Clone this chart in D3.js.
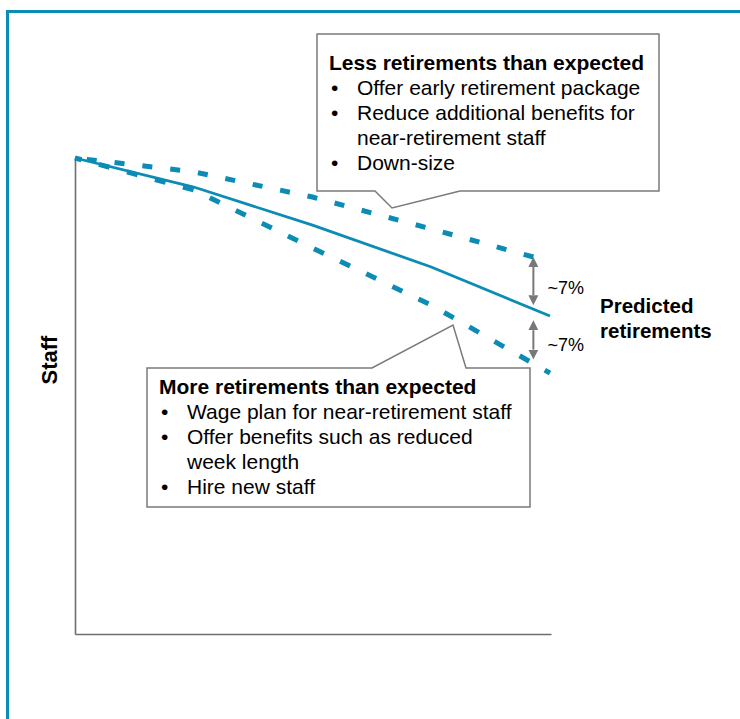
<!DOCTYPE html>
<html>
  <head>
    <script src="https://d3js.org/d3.v7.min.js"></script>
    <style>
      body { margin: 0; background: #fff; }
      text { font-family: "Liberation Sans", Arial, sans-serif; fill: #000; }
      .axis .domain { stroke: #6e6e6e; stroke-width: 1.6px; }
      .callout { fill: #fff; stroke: #7a7a7a; stroke-width: 1.5px; }
      .note { font-size: 21px; }
      .note--title { font-weight: bold; }
    </style>
  </head>
  <body>
    <svg width="740" height="719"></svg>
    <script>
      // periods along the x axis (no tick labels in the original)
      const periods = [0, 1, 2, 3, 4];
      // staff, as % of the starting level
      const predicted = [100, 93.9, 85.9, 77.1, 66.8];
      const moreRetirements = [100, 93.3, 81.1, 69.1, 54.8];
      // the upper dashed line stops a little short of the last period
      const lessPeriods = [0, 1, 2, 3, 3.86];
      const lessRetirements = [100, 97.1, 91.8, 85.1, 79.2];

      const gapLabels = ["~7%", "~7%"];
      const yLabel = "Staff";
      const seriesLabel = ["Predicted", "retirements"];

      const lessTitle = "Less retirements than expected";
      const lessNotes = [
        ["Offer early retirement package"],
        ["Reduce additional benefits for", "near-retirement staff"],
        ["Down-size"]
      ];
      const moreTitle = "More retirements than expected";
      const moreNotes = [
        ["Wage plan for near-retirement staff"],
        ["Offer benefits such as reduced", "week length"],
        ["Hire new staff"]
      ];

      const blue = "#0b8cb5";
      const grey = "#787878";

      const svg = d3.select("svg");
      const width = +svg.attr("width");
      const height = +svg.attr("height");

      // frame round the slide
      svg.append("rect")
        .attr("x", 7.5).attr("y", 11.5)
        .attr("width", width).attr("height", height)
        .attr("fill", "none")
        .attr("stroke", blue)
        .attr("stroke-width", 3);

      const xScale = d3.scaleLinear().domain([0, 4]).range([75, 550]);
      const yScale = d3.scaleLinear().domain([0, 100]).range([634, 158]);

      svg.append("g")
          .attr("class", "axis")
          .attr("transform", "translate(75,0)")
          .call(d3.axisLeft(yScale).tickValues([]).tickSizeOuter(0));
      svg.append("g")
          .attr("class", "axis")
          .attr("transform", "translate(0,634)")
          .call(d3.axisBottom(d3.scaleLinear().range([75, 551])).tickValues([]).tickSizeOuter(0));

      svg.append("text")
          .attr("transform", "translate(57, 360) rotate(-90)")
          .attr("text-anchor", "middle")
          .attr("font-size", 22)
          .attr("font-weight", "bold")
          .text(yLabel);

      const line = d3.line()
        .x(d => xScale(d[0]))
        .y(d => yScale(d[1]));

      // endIn: how far into a dash the line should stop
      const lines = [
        { xs: lessPeriods, ys: lessRetirements, dash: [10, 18], endIn: 10, w: 5 },
        { xs: periods, ys: moreRetirements, dash: [11, 18], endIn: 6, w: 5 },
        { xs: periods, ys: predicted, dash: null, w: 2.8 }
      ];
      svg.selectAll(".series")
        .data(lines)
        .join("path")
          .attr("class", "series")
          .attr("d", d => line(d3.zip(d.xs, d.ys)))
          .attr("fill", "none")
          .attr("stroke", blue)
          .attr("stroke-width", d => d.w)
          .attr("stroke-dasharray", d => d.dash ? d.dash.join(",") : null)
          .attr("stroke-dashoffset", function(d) {
            if (!d.dash) return null;
            const period = d.dash[0] + d.dash[1];
            const len = this.getTotalLength();
            return ((d.endIn - len) % period + period) % period;
          });

      // gap arrows at the end of the upper dashed line
      const defs = svg.append("defs");
      ["start", "end"].forEach(k => {
        defs.append("marker")
            .attr("id", "arrow-" + k)
            .attr("viewBox", "0 0 10 10")
            .attr("refX", 0).attr("refY", 5)
            .attr("markerWidth", 10).attr("markerHeight", 10)
            .attr("markerUnits", "userSpaceOnUse")
            .attr("orient", k === "start" ? "auto-start-reverse" : "auto")
          .append("path")
            .attr("d", "M0,0L10,5L0,10Z")
            .attr("fill", grey);
      });

      const arrowX = lessPeriods[4];
      const predictedAt = d3.scaleLinear().domain(periods).range(predicted)(arrowX);
      const moreAt = d3.scaleLinear().domain(periods).range(moreRetirements)(arrowX);
      const gaps = [
        { from: lessRetirements[4], to: predictedAt, pad: [10, 14], labelY: 294 },
        { from: predictedAt, to: moreAt, pad: [21, 14], labelY: 351 }
      ];
      const gapG = svg.selectAll(".gap")
        .data(gaps)
        .join("g")
          .attr("class", "gap");
      gapG.append("line")
          .attr("x1", xScale(arrowX)).attr("x2", xScale(arrowX))
          .attr("y1", d => yScale(d.from) + d.pad[0])
          .attr("y2", d => yScale(d.to) - d.pad[1])
          .attr("stroke", grey)
          .attr("stroke-width", 2)
          .attr("marker-start", "url(#arrow-start)")
          .attr("marker-end", "url(#arrow-end)");
      gapG.append("text")
          .attr("x", xScale(arrowX) + 14)
          .attr("y", d => d.labelY)
          .attr("font-size", 18)
          .text((d, i) => gapLabels[i]);

      svg.append("text")
          .attr("x", 600)
          .attr("font-size", 20.5)
          .attr("font-weight", "bold")
        .selectAll("tspan")
        .data(seriesLabel)
        .join("tspan")
          .attr("x", 600)
          .attr("y", (d, i) => 313 + i * 25)
          .text(d => d);

      // callout boxes
      function callout(pathPoints, tx, ty, bulletX, textX, title, notes) {
        svg.append("path")
            .attr("class", "callout")
            .attr("d", d3.line()(pathPoints) + "Z");
        const g = svg.append("g");
        g.append("text")
            .attr("class", "note note--title")
            .attr("x", tx).attr("y", ty)
            .text(title);
        let row = 1;
        notes.forEach(item => {
          g.append("text")
              .attr("class", "note")
              .attr("x", bulletX).attr("y", ty + row * 25)
              .text("\u2022");
          item.forEach(t => {
            g.append("text")
                .attr("class", "note")
                .attr("x", textX).attr("y", ty + row * 25)
                .text(t);
            row++;
          });
        });
      }

      callout([[317, 34], [659, 34], [659, 191], [460, 191], [392, 208], [375, 191], [317, 191]],
        329, 70, 331, 357, lessTitle, lessNotes);
      callout([[147, 368], [372, 368], [453, 325], [466, 368], [530, 368], [530, 507], [147, 507]],
        159, 394, 161, 187, moreTitle, moreNotes);
    </script>
  </body>
</html>
